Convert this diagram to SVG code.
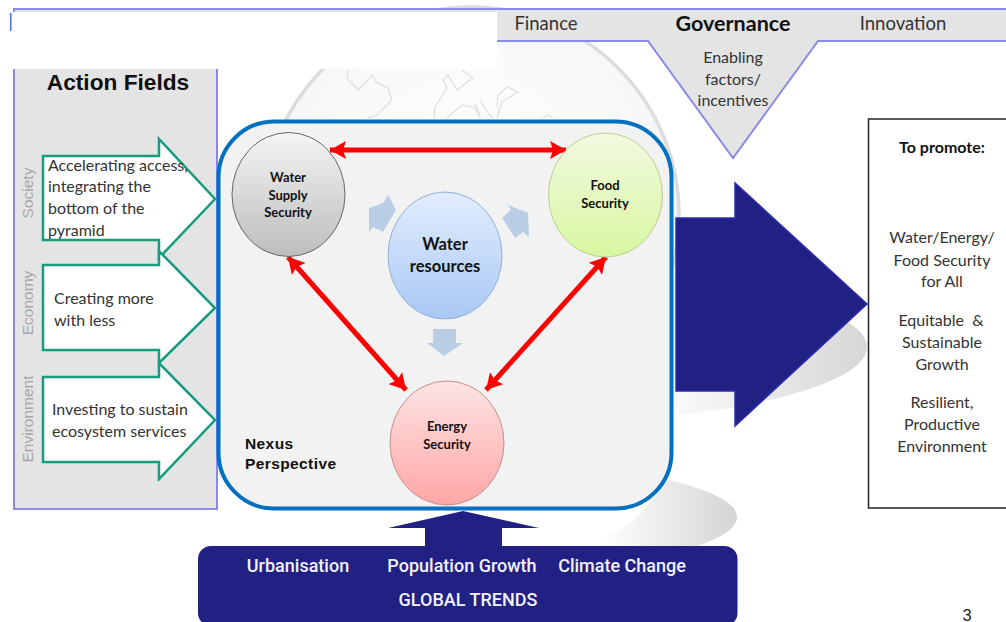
<svg xmlns="http://www.w3.org/2000/svg" width="1006" height="622" viewBox="0 0 1006 622">
<defs>
<style>
text{font-family:"Open Sans","Liberation Sans",sans-serif;fill:#222}
.c{font-family:Lato,"Open Sans",sans-serif;font-size:16px;fill:#333;white-space:pre}
.m{text-anchor:middle}
.b{font-family:"Liberation Sans",Arial,sans-serif;font-weight:700}
.n{font-family:Lato,sans-serif;font-weight:700;font-size:13px;text-anchor:middle;fill:#111}
.g{font-family:"Liberation Sans",sans-serif;font-size:15.500px;fill:#a6a6a6;text-anchor:middle}
.w{font-family:Roboto,"Liberation Sans",sans-serif;font-weight:500;font-size:18px;fill:#f2f2ff;text-anchor:middle}
.arrow{fill:#fff;stroke:#179c7d;stroke-width:2.500}
.red{stroke:#f00;stroke-width:5;fill:none;marker-start:url(#rh);marker-end:url(#rh)}
.lb{fill:#b9cde5}
.map{fill:none;stroke:#dedede;stroke-width:1.200}
.edge{fill:none;stroke:#8a8ae6;stroke-width:2}
</style>
<marker id="rh" markerUnits="userSpaceOnUse" markerWidth="18" markerHeight="18" refX="16" refY="9" orient="auto-start-reverse"><path d="M0 0L16 9L0 18L3 9Z" fill="#f00"/></marker>
<linearGradient id="sh1" gradientUnits="userSpaceOnUse" x1="670" y1="0" x2="867" y2="0"><stop offset="0" stop-color="#fbfbfb"/><stop offset="1" stop-color="#d6d6d6"/></linearGradient>
<linearGradient id="sh2" gradientUnits="userSpaceOnUse" x1="600" y1="0" x2="737" y2="0"><stop offset="0" stop-color="#fff"/><stop offset="0.3" stop-color="#f3f3f3"/><stop offset="1" stop-color="#d4d4d4"/></linearGradient>
<linearGradient id="gw" x1="0" y1="0" x2="0" y2="1"><stop offset="0" stop-color="#f4f4f4"/><stop offset="1" stop-color="#bdbdbd"/></linearGradient>
<linearGradient id="gf" x1="0" y1="0" x2="0" y2="1"><stop offset="0" stop-color="#f2f9e2"/><stop offset="1" stop-color="#d8f7a0"/></linearGradient>
<linearGradient id="gb" x1="0" y1="0" x2="0" y2="1"><stop offset="0" stop-color="#e2edfd"/><stop offset="1" stop-color="#a9c8f5"/></linearGradient>
<linearGradient id="gr" x1="0" y1="0" x2="0" y2="1"><stop offset="0" stop-color="#fde4e4"/><stop offset="1" stop-color="#ffa6a6"/></linearGradient>
<radialGradient id="gl" cx="0.5" cy="0.4" r="0.6"><stop offset="0" stop-color="#fff"/><stop offset="1" stop-color="#f4f4f4"/></radialGradient>
</defs>
<rect width="1006" height="622" fill="#fff"/>
<g id="backdrop">
<ellipse cx="500" cy="347" rx="367" ry="78" fill="url(#sh1)"/>
<ellipse cx="470" cy="517" rx="267" ry="55" fill="url(#sh2)"/>
<ellipse cx="520" cy="490" rx="130" ry="62" fill="#fff"/>
<circle cx="471" cy="215" r="208" fill="url(#gl)" stroke="#dcdcdc" stroke-width="3.500"/>
<path class="map" d="M348 70L347 78L358 90L372 75L377 83L388 88L392 100L377 115L367 118M462 70L473 78L457 90L448 75L443 80L447 88L435 107L434 118M447 118L462 105L475 108L480 118M475 103L480 115M480 100L488 113L493 118M497 118L502 102L518 92L507 87L498 95L497 107M543 118L548 115L553 118"/>
</g>
<g id="top-band">
<path d="M14 9H1006V41H818L733 158L648 41H497V69H217V509H14Z" fill="#e4e4e4"/>
<rect x="11" y="12" width="486" height="57" fill="#fff"/>
<path class="edge" d="M14 12V9H1006M1006 41H818L733 158L648 41H497M14 69V509H217V69"/>
<rect x="10" y="13" width="1.500" height="18" fill="#4a6fd8"/>
<text x="546" y="30" class="c m" style="font-size:18.500px">Finance</text>
<text x="733" y="31" class="m" style="font-family:Lato,sans-serif;font-weight:700;font-size:21.500px;fill:#111">Governance</text>
<text x="903" y="30" class="c m" style="font-size:18.500px">Innovation</text>
<text x="733" y="63" class="c m">Enabling</text>
<text x="733" y="85" class="c m">factors/</text>
<text x="733" y="106" class="c m">incentives</text>
</g>
<g id="action-fields">
<text x="118" y="90" class="b m" style="font-size:22.700px;fill:#111">Action Fields</text>
<text class="g" transform="translate(33 193) rotate(-90)">Society</text>
<text class="g" transform="translate(33 303) rotate(-90)">Economy</text>
<text class="g" transform="translate(33 419) rotate(-90)">Environment</text>
</g>
<g id="arrow-society">
<path class="arrow" d="M43 156H159V139L215 199L159 258V240H43Z"/>
<text x="48" y="171" class="c">Accelerating access,</text>
<text x="48" y="192" class="c">integrating the</text>
<text x="48" y="214" class="c">bottom of the</text>
<text x="48" y="236" class="c">pyramid</text>
</g>
<g id="arrow-economy">
<path class="arrow" d="M43 265H159V251L215 308L159 363V350H43Z"/>
<text x="54" y="304" class="c">Creating more</text>
<text x="54" y="326" class="c">with less</text>
</g>
<g id="arrow-environment">
<path class="arrow" d="M43 377H159V363L215 420L159 479V462H43Z"/>
<text x="52" y="415" class="c">Investing to sustain</text>
<text x="52" y="437" class="c">ecosystem services</text>
</g>
<g id="nexus">
<rect x="218.500" y="121.500" width="453" height="387" rx="56" fill="#f2f2f2" stroke="#0070c0" stroke-width="4"/>
<text x="245" y="449" class="b" style="font-size:15.500px;letter-spacing:.4px;fill:#111">Nexus</text>
<text x="245" y="469" class="b" style="font-size:15.500px;letter-spacing:.4px;fill:#111">Perspective</text>
</g>
<g id="flow-arrows">
<path class="lb" d="M369 208L383 203L388 195L396 210L383 232L373 227L369 232Z"/>
<path class="lb" d="M508 205L528 213L529 237L523 232L515 238L502 218L511 210Z"/>
<path class="lb" d="M433 329H456V343H463L444 356L427 343H433Z"/>
</g>
<g id="connectors">
<path class="red" d="M330 150H566"/>
<path class="red" d="M288 257L406 390"/>
<path class="red" d="M606 257L486 390"/>
</g>
<g id="water-supply">
<ellipse cx="288.500" cy="194.500" rx="56.500" ry="62" fill="url(#gw)" stroke="#666" stroke-width="1"/>
<text x="288" y="182" class="n">Water</text>
<text x="288" y="200" class="n">Supply</text>
<text x="288" y="217" class="n">Security</text>
</g>
<g id="food">
<ellipse cx="605.500" cy="195" rx="57" ry="62" fill="url(#gf)" stroke="#b9cf8e" stroke-width="1"/>
<text x="605" y="190" class="n">Food</text>
<text x="605" y="208" class="n">Security</text>
</g>
<g id="water-resources">
<ellipse cx="445" cy="255.500" rx="57" ry="63.500" fill="url(#gb)" stroke="#8fb0dc" stroke-width="1"/>
<text x="445" y="250" class="n" style="font-size:16.500px">Water</text>
<text x="445" y="272" class="n" style="font-size:16.500px">resources</text>
</g>
<g id="energy">
<ellipse cx="447" cy="443" rx="57" ry="62" fill="url(#gr)" stroke="#c98c8c" stroke-width="1"/>
<text x="447" y="431" class="n">Energy</text>
<text x="447" y="449" class="n">Security</text>
</g>
<g id="promote-arrow">
<path d="M676 218H735V183L867 304L735 426V391H676Z" fill="#212184" stroke="#2c2cb4" stroke-width="1.500"/>
</g>
<g id="promote">
<path d="M1006 119H868.500V508H1006" fill="#fff" stroke="#222" stroke-width="1.500"/>
<text x="942" y="153" class="c m" style="font-weight:700;fill:#111">To promote:</text>
<text x="942" y="243" class="c m">Water/Energy/</text>
<text x="942" y="266" class="c m">Food Security</text>
<text x="942" y="287" class="c m">for All</text>
<text x="941" y="326" class="c m">Equitable  &amp;</text>
<text x="942" y="348" class="c m">Sustainable</text>
<text x="942" y="370" class="c m">Growth</text>
<text x="942" y="408" class="c m">Resilient,</text>
<text x="942" y="430" class="c m">Productive</text>
<text x="942" y="452" class="c m">Environment</text>
</g>
<g id="global-trends">
<path d="M463 511L539 528H502V550H425V528H388Z" fill="#212184"/>
<rect x="198" y="546" width="539.500" height="80" rx="13" fill="#212184"/>
<text x="298" y="572" class="w">Urbanisation</text>
<text x="462" y="572" class="w">Population Growth</text>
<text x="622" y="572" class="w">Climate Change</text>
<text x="468" y="606" class="w">GLOBAL TRENDS</text>
</g>
<text x="967" y="620.500" class="m" style="font-family:'Liberation Sans',sans-serif;font-size:16.500px;fill:#222">3</text>
</svg>
